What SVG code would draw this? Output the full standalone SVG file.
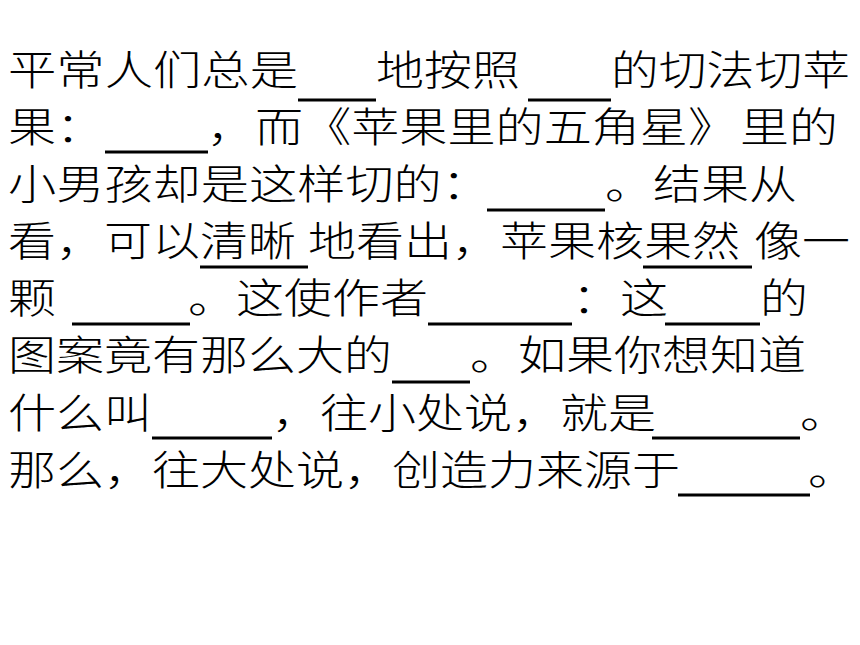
<svg xmlns="http://www.w3.org/2000/svg" width="860" height="645" viewBox="0 0 860 645">
<style>
.t{font-family:"Noto Sans CJK SC","Liberation Serif",sans-serif;font-size:41px;font-weight:300;fill:#000}
.u{stroke:#000;stroke-width:3}
</style>
<rect width="860" height="645" fill="#fff"/>
<g id="text">
<text class="t" lengthAdjust="spacingAndGlyphs" x="8" y="85" textLength="290">平常人们总是</text>
<text class="t" lengthAdjust="spacingAndGlyphs" x="376" y="85" textLength="144">地按照</text>
<text class="t" lengthAdjust="spacingAndGlyphs" x="611" y="85" textLength="239">的切法切苹</text>

<text class="t" lengthAdjust="spacingAndGlyphs" x="8" y="142" textLength="96">果：</text>
<text class="t" lengthAdjust="spacingAndGlyphs" x="207" y="142" textLength="529">，而《苹果里的五角星》</text>
<text class="t" lengthAdjust="spacingAndGlyphs" x="740" y="142" textLength="98">里的</text>

<text class="t" lengthAdjust="spacingAndGlyphs" x="8" y="199" textLength="482">小男孩却是这样切的：</text>
<text class="t" lengthAdjust="spacingAndGlyphs" x="605" y="199" textLength="192">。结果从</text>

<text class="t" lengthAdjust="spacingAndGlyphs" x="8" y="256" textLength="192">看，可以</text>
<text class="t" lengthAdjust="spacingAndGlyphs" x="200" y="256" textLength="96">清晰</text>
<text class="t" lengthAdjust="spacingAndGlyphs" x="308" y="256" textLength="336">地看出，苹果核</text>
<text class="t" lengthAdjust="spacingAndGlyphs" x="644" y="256" textLength="96">果然</text>
<text class="t" lengthAdjust="spacingAndGlyphs" x="754" y="256" textLength="96">像一</text>

<text class="t" lengthAdjust="spacingAndGlyphs" x="8" y="313" textLength="48">颗</text>
<text class="t" lengthAdjust="spacingAndGlyphs" x="188" y="313" textLength="240">。这使作者</text>
<text class="t" lengthAdjust="spacingAndGlyphs" x="572" y="313" textLength="96">：这</text>
<text class="t" lengthAdjust="spacingAndGlyphs" x="760" y="313" textLength="48">的</text>

<text class="t" lengthAdjust="spacingAndGlyphs" x="8" y="370" textLength="384">图案竟有那么大的</text>
<text class="t" lengthAdjust="spacingAndGlyphs" x="470" y="370" textLength="336">。如果你想知道</text>

<text class="t" lengthAdjust="spacingAndGlyphs" x="8" y="428" textLength="144">什么叫</text>
<text class="t" lengthAdjust="spacingAndGlyphs" x="272" y="428" textLength="384">，往小处说，就是</text>
<text class="t" lengthAdjust="spacingAndGlyphs" x="800" y="428" textLength="48">。</text>

<text class="t" lengthAdjust="spacingAndGlyphs" x="8" y="485" textLength="672">那么，往大处说，创造力来源于</text>
<text class="t" lengthAdjust="spacingAndGlyphs" x="808" y="485" textLength="48">。</text>
</g>
<g id="underlines">
<line class="u" x1="298" y1="100" x2="376" y2="100"/>
<line class="u" x1="528" y1="100" x2="611" y2="100"/>
<line class="u" x1="105" y1="152" x2="208" y2="152"/>
<line class="u" x1="487" y1="210" x2="605" y2="210"/>
<line class="u" x1="200" y1="267" x2="308" y2="267"/>
<line class="u" x1="643" y1="267" x2="752" y2="267"/>
<line class="u" x1="72" y1="324" x2="190" y2="324"/>
<line class="u" x1="428" y1="324" x2="572" y2="324"/>
<line class="u" x1="665" y1="324" x2="760" y2="324"/>
<line class="u" x1="392" y1="382" x2="470" y2="382"/>
<line class="u" x1="152" y1="438" x2="272" y2="438"/>
<line class="u" x1="652" y1="438" x2="800" y2="438"/>
<line class="u" x1="678" y1="495" x2="810" y2="495"/>
</g>
</svg>
